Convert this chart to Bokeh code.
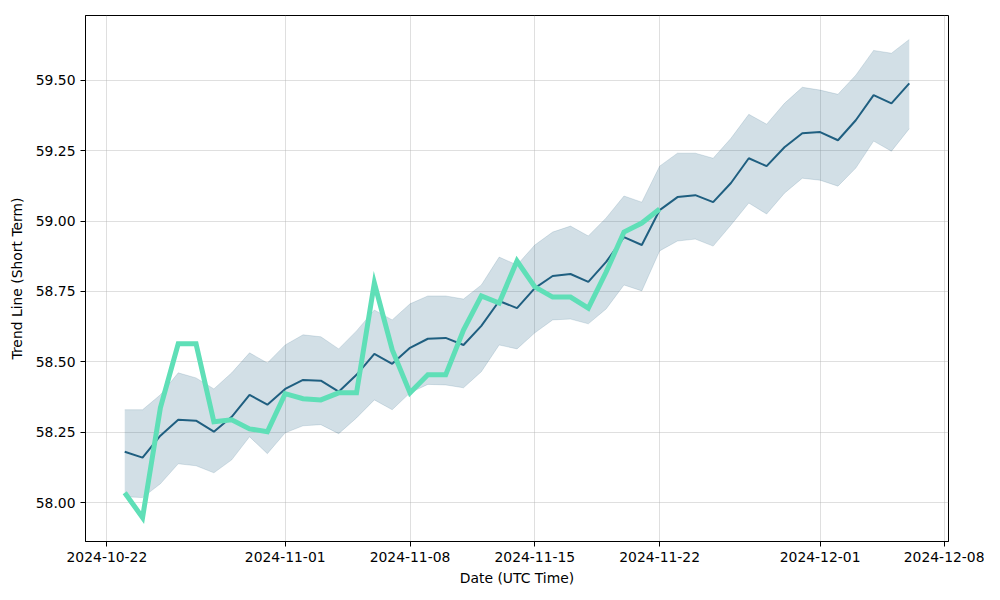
from datetime import datetime, timedelta
from bokeh.plotting import figure
from bokeh.models import Range1d, FixedTicker, DatetimeTickFormatter, NumeralTickFormatter
from bokeh.embed import file_html
from bokeh.resources import INLINE

start_date = "2024-10-23"
n_days = 45

trend = [58.181, 58.160, 58.238, 58.294, 58.291, 58.252, 58.305, 58.383, 58.348, 58.404,
         58.436, 58.433, 58.394, 58.454, 58.528, 58.493, 58.550, 58.582, 58.585, 58.560,
         58.628, 58.716, 58.691, 58.762, 58.805, 58.812, 58.784, 58.855, 58.943, 58.915,
         59.039, 59.085, 59.092, 59.067, 59.135, 59.223, 59.195, 59.262, 59.312, 59.316,
         59.287, 59.358, 59.447, 59.418, 59.489]

upper = [58.330, 58.330, 58.383, 58.461, 58.443, 58.404, 58.461, 58.532, 58.496, 58.560,
         58.596, 58.589, 58.546, 58.610, 58.684, 58.649, 58.706, 58.734, 58.734, 58.723,
         58.773, 58.872, 58.844, 58.915, 58.961, 58.982, 58.947, 59.011, 59.089, 59.067,
         59.195, 59.241, 59.241, 59.223, 59.294, 59.379, 59.344, 59.418, 59.475, 59.465,
         59.450, 59.518, 59.606, 59.596, 59.645]

lower = [58.021, 58.018, 58.067, 58.138, 58.131, 58.106, 58.152, 58.234, 58.174, 58.248,
         58.273, 58.277, 58.245, 58.301, 58.365, 58.330, 58.390, 58.420, 58.418, 58.408,
         58.465, 58.560, 58.546, 58.603, 58.649, 58.652, 58.635, 58.688, 58.773, 58.752,
         58.894, 58.929, 58.936, 58.911, 58.986, 59.064, 59.025, 59.099, 59.152, 59.145,
         59.124, 59.188, 59.284, 59.248, 59.328]

actual = [58.035, 57.947, 58.337, 58.564, 58.564, 58.287, 58.294, 58.262, 58.252, 58.387,
          58.369, 58.365, 58.390, 58.390, 58.780, 58.543, 58.390, 58.454, 58.454, 58.613,
          58.734, 58.709, 58.858, 58.766, 58.730, 58.730, 58.691, 58.819, 58.961, 58.993,
          59.043]

tick_dates = ["2024-10-22", "2024-11-01", "2024-11-08", "2024-11-15",
              "2024-11-22", "2024-12-01", "2024-12-08"]
y_ticks = [58.00, 58.25, 58.50, 58.75, 59.00, 59.25, 59.50]

d0 = datetime.strptime(start_date, "%Y-%m-%d")
dates = [d0 + timedelta(days=i) for i in range(n_days)]
act_dates = dates[:len(actual)]

span = dates[-1] - dates[0]
x_start = dates[0] - span * 0.05
x_end = dates[-1] + span * 0.05
ymin = min(min(lower), min(actual))
ymax = max(max(upper), max(actual))
yspan = ymax - ymin

p = figure(width=984, height=584, output_backend="svg", toolbar_location=None,
           x_axis_type="datetime",
           x_range=Range1d(x_start, x_end),
           y_range=Range1d(ymin - 0.05 * yspan, ymax + 0.05 * yspan),
           min_border_left=85, min_border_right=36, min_border_top=15, min_border_bottom=43)
p.frame_width = 863
p.frame_height = 526

line_col = "#1f5f80"
p.varea(x=dates, y1=lower, y2=upper, fill_color=line_col, fill_alpha=0.2)
p.line(dates, upper, line_color=line_col, line_alpha=0.15, line_width=1)
p.line(dates, lower, line_color=line_col, line_alpha=0.15, line_width=1)
p.line(dates, trend, line_color=line_col, line_width=2)
p.line(act_dates, actual, line_color="#5fdfb7", line_width=5, line_join="miter")

tick_ms = [datetime.strptime(t, "%Y-%m-%d").timestamp() * 1000 for t in tick_dates]
p.xaxis.ticker = FixedTicker(ticks=tick_ms)
p.xaxis.formatter = DatetimeTickFormatter(days="%Y-%m-%d", months="%Y-%m-%d", hours="%Y-%m-%d")
p.yaxis.ticker = FixedTicker(ticks=y_ticks)
p.yaxis.formatter = NumeralTickFormatter(format="0.00")

p.xaxis.axis_label = "Date (UTC Time)"
p.yaxis.axis_label = "Trend Line (Short Term)"
for ax in (p.xaxis[0], p.yaxis[0]):
    ax.axis_label_text_font = "DejaVu Sans"
    ax.axis_label_text_font_style = "normal"
    ax.axis_label_text_font_size = "13.9px"
    ax.major_label_text_font = "DejaVu Sans"
    ax.major_label_text_font_size = "13.9px"
    ax.major_label_text_color = "black"
    ax.axis_label_text_color = "black"
    ax.minor_tick_line_color = None
    ax.major_tick_out = 5
    ax.major_tick_in = 0
    ax.axis_line_color = "black"
    ax.major_tick_line_color = "black"
p.xaxis.axis_label_standoff = 5
p.yaxis.axis_label_standoff = 8

p.xgrid.grid_line_color = "#b0b0b0"
p.ygrid.grid_line_color = "#b0b0b0"
p.xgrid.grid_line_alpha = 0.4
p.ygrid.grid_line_alpha = 0.4
p.outline_line_color = "black"
p.outline_line_alpha = 1

open("out.html", "w").write(file_html(p, INLINE))
